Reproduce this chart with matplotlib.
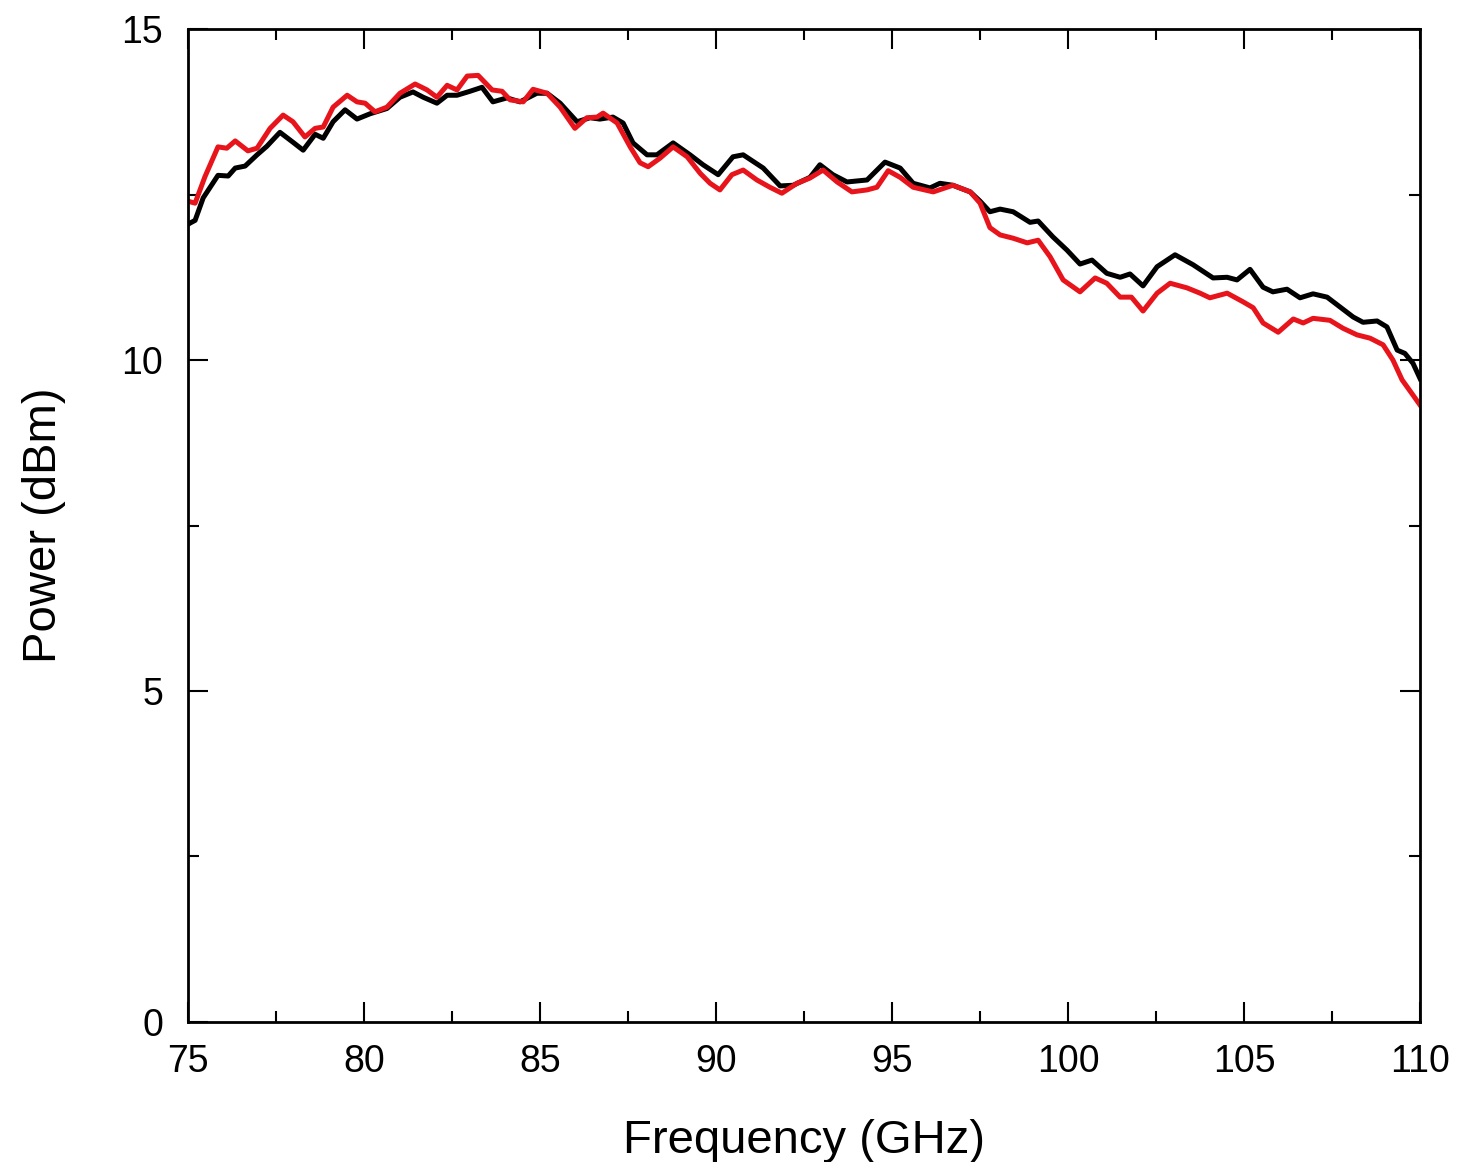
import matplotlib
matplotlib.use("Agg")
import matplotlib.pyplot as plt
from matplotlib.ticker import MultipleLocator

plt.rcParams['font.family'] = ['Liberation Sans', 'DejaVu Sans']

# Black trace
freq_black = [75.0, 75.06, 75.2, 75.43, 75.85, 76.14, 76.34, 76.62, 76.96, 77.24, 77.61, 77.98,
              78.27, 78.61, 78.84, 79.12, 79.46, 79.8, 80.17, 80.65, 81.02, 81.39, 81.68, 82.07,
              82.36, 82.64, 83.01, 83.35, 83.66, 84.06, 84.43, 84.91, 85.2, 85.57, 86.05, 86.42,
              86.7, 87.07, 87.36, 87.64, 88.04, 88.32, 88.78, 89.26, 89.63, 90.06, 90.48, 90.77,
              91.34, 91.82, 92.19, 92.67, 92.95, 93.32, 93.72, 94.29, 94.8, 95.23, 95.6, 96.08,
              96.36, 96.73, 97.22, 97.5, 97.78, 98.07, 98.44, 98.92, 99.15, 99.57, 99.97, 100.34,
              100.68, 101.1, 101.48, 101.76, 102.13, 102.53, 103.04, 103.55, 104.12, 104.52, 104.8,
              105.17, 105.54, 105.82, 106.22, 106.59, 106.96, 107.36, 107.73, 108.1, 108.38, 108.78,
              109.06, 109.35, 109.57, 109.8, 110.0]
power_black = [12.05, 12.07, 12.11, 12.45, 12.79, 12.78, 12.9, 12.93, 13.1, 13.23, 13.44, 13.29,
               13.17, 13.41, 13.35, 13.6, 13.78, 13.64, 13.72, 13.8, 13.97, 14.05, 13.97, 13.88,
               14.0, 14.0, 14.06, 14.12, 13.9, 13.96, 13.9, 14.03, 14.03, 13.88, 13.6, 13.66,
               13.64, 13.67, 13.58, 13.28, 13.1, 13.1, 13.28, 13.1, 12.95, 12.8, 13.07, 13.1,
               12.9, 12.63, 12.64, 12.76, 12.95, 12.8, 12.69, 12.72, 12.99, 12.9, 12.67, 12.6,
               12.67, 12.64, 12.54, 12.4, 12.24, 12.28, 12.24, 12.08, 12.1, 11.86, 11.66, 11.45,
               11.51, 11.31, 11.25, 11.3, 11.12, 11.41, 11.59, 11.44, 11.24, 11.25, 11.21,
               11.37, 11.1, 11.03, 11.07, 10.94, 11.0, 10.95, 10.8, 10.65, 10.57, 10.59,
               10.5, 10.15, 10.1, 9.95, 9.72]

# Red trace
freq_red = [75.0, 75.06, 75.2, 75.48, 75.85, 76.1, 76.34, 76.7, 76.96, 77.33, 77.7, 77.98,
            78.32, 78.61, 78.84, 79.12, 79.52, 79.8, 80.03, 80.31, 80.65, 81.02, 81.45, 81.79,
            82.07, 82.36, 82.64, 82.93, 83.24, 83.64, 83.92, 84.15, 84.52, 84.8, 85.2, 85.57,
            85.99, 86.33, 86.62, 86.79, 87.19, 87.56, 87.84, 88.07, 88.41, 88.78, 89.18, 89.55,
            89.83, 90.11, 90.45, 90.77, 91.16, 91.53, 91.87, 92.3, 92.67, 93.04, 93.44, 93.86,
            94.29, 94.57, 94.89, 95.23, 95.6, 96.17, 96.73, 97.22, 97.5, 97.78, 98.07, 98.44,
            98.84, 99.15, 99.49, 99.86, 100.34, 100.77, 101.1, 101.48, 101.8, 102.13, 102.53,
            102.9, 103.38, 103.75, 104.03, 104.52, 104.97, 105.26, 105.54, 105.97, 106.4, 106.68,
            106.96, 107.44, 107.81, 108.21, 108.58, 108.95, 109.23, 109.49, 109.8, 110.0]
power_red = [12.4, 12.39, 12.37, 12.77, 13.22, 13.2, 13.31, 13.16, 13.2, 13.5, 13.7, 13.6,
             13.37, 13.5, 13.52, 13.82, 14.0, 13.9, 13.88, 13.75, 13.82, 14.03, 14.17, 14.08,
             13.97, 14.15, 14.08, 14.29, 14.3, 14.08, 14.06, 13.93, 13.9, 14.09, 14.03, 13.82,
             13.5, 13.66, 13.67, 13.73, 13.58, 13.22, 12.98, 12.92, 13.05, 13.22, 13.07, 12.82,
             12.67, 12.57, 12.8, 12.87, 12.72, 12.61, 12.52, 12.67, 12.75, 12.87, 12.69, 12.54,
             12.57, 12.61, 12.86, 12.76, 12.61, 12.54, 12.64, 12.54, 12.37, 12.0, 11.89, 11.84,
             11.77, 11.81, 11.56, 11.21, 11.03, 11.24, 11.16, 10.95, 10.95, 10.74, 11.01,
             11.16, 11.09, 11.01, 10.94, 11.01, 10.88, 10.79, 10.56, 10.42, 10.62, 10.56,
             10.63, 10.6, 10.48, 10.38, 10.33, 10.23, 10.0, 9.7, 9.47, 9.32]

x_ticks = [75, 80, 85, 90, 95, 100, 105, 110]
y_ticks = [0, 5, 10, 15]

fig = plt.figure(figsize=(14.59, 11.62), dpi=100)
ax = fig.add_axes([0.1289, 0.1205, 0.8444, 0.8545])

ax.plot(freq_black, power_black, color='black', lw=3.6, solid_joinstyle='round')
ax.plot(freq_red, power_red, color='#e8141b', lw=3.6, solid_joinstyle='round')

ax.set_xlim(75, 110)
ax.set_ylim(0, 15)
ax.set_xticks(x_ticks)
ax.set_yticks(y_ticks)
ax.xaxis.set_minor_locator(MultipleLocator(2.5))
ax.yaxis.set_minor_locator(MultipleLocator(2.5))
ax.tick_params(which='both', direction='in', top=True, right=True, width=1.5, colors='black')
ax.tick_params(which='major', length=14.5, labelsize=27)
ax.tick_params(axis='x', which='major', pad=16)
ax.tick_params(axis='y', which='major', pad=18)
ax.tick_params(which='minor', length=8)
for s in ax.spines.values():
    s.set_linewidth(2)

ax.set_xlabel('Frequency (GHz)', fontsize=34, labelpad=28)
ax.set_ylabel('Power (dBm)', fontsize=34, labelpad=40)

fig.savefig('out.png', dpi=100, facecolor='white')
